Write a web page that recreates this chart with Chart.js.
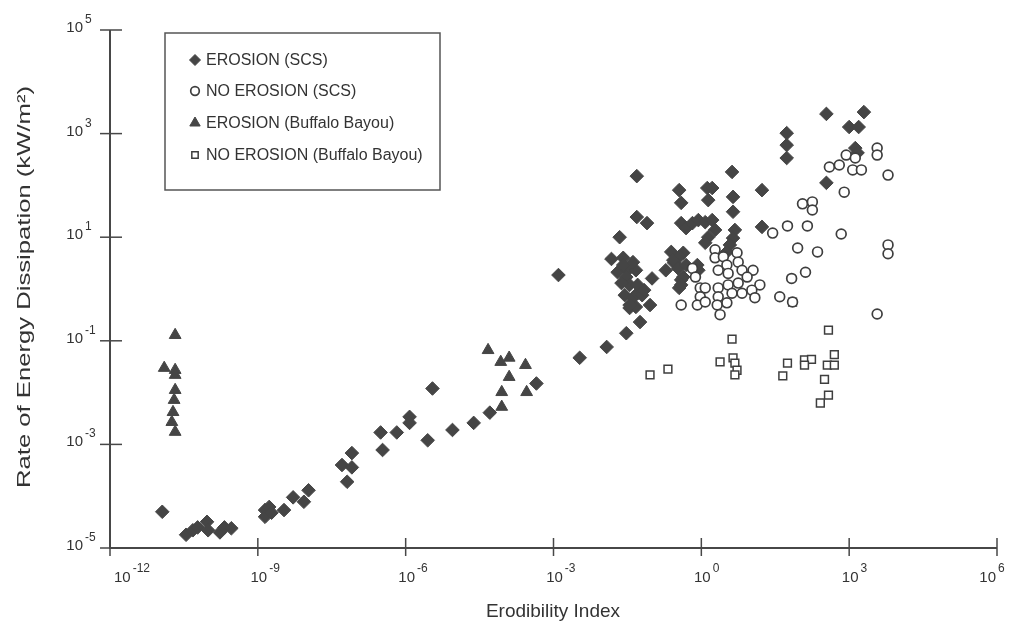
<!DOCTYPE html>
<html>
<head>
<meta charset="utf-8">
<script src="https://cdn.jsdelivr.net/npm/chart.js@4.4.0/dist/chart.umd.min.js"></script>
<style>
  html, body { margin: 0; padding: 0; background: #ffffff; }
</style>
</head>
<body>
<canvas id="erosionChart" width="1009" height="640"></canvas>
<script>
// Valores (eixos log-log): [índice de erodibilidade, dissipação kW/m²]
const erosionSCS = [
  [1.15e-11, 5e-5], [3.5e-11, 1.8e-5], [4.8e-11, 2.2e-5], [6e-11, 2.5e-5], [9.3e-11, 3.2e-5],
  [9.8e-11, 2.2e-5], [1.7e-10, 2e-5], [2.1e-10, 2.5e-5], [2.9e-10, 2.4e-5],
  [1.4e-9, 5.4e-5], [1.4e-9, 4e-5], [1.7e-9, 6.2e-5], [1.9e-9, 4.8e-5], [3.4e-9, 5.4e-5],
  [5.2e-9, 9.5e-5], [8.6e-9, 7.8e-5], [1.07e-8, 1.3e-4],
  [5.1e-8, 4e-4], [8.1e-8, 6.8e-4], [8.1e-8, 3.6e-4], [6.5e-8, 1.9e-4],
  [3.1e-7, 1.7e-3], [3.4e-7, 7.8e-4], [6.6e-7, 1.7e-3], [1.2e-6, 3.4e-3], [1.2e-6, 2.6e-3],
  [3.5e-6, 1.2e-2], [2.8e-6, 1.2e-3], [8.9e-6, 1.9e-3], [2.4e-5, 2.6e-3], [5.1e-5, 4.1e-3],
  [4.5e-4, 1.5e-2], [3.4e-3, 4.7e-2], [1.2e-2, 7.6e-2], [3e-2, 0.14], [5.7e-2, 0.23],
  [1.26e-3, 1.86], [3.5e-2, 0.43], [9.1e-2, 0.49],
  [0.049, 151], [0.049, 24.5], [0.079, 18.7], [0.022, 10], [0.015, 3.8], [0.026, 4.0],
  [0.020, 2.1], [0.032, 2.3], [0.047, 2.3], [0.10, 1.6], [0.030, 1.7], [0.035, 1.2],
  [0.028, 0.76], [0.041, 0.68], [0.047, 0.45], [0.051, 0.83],
  [0.026, 2.9], [0.041, 3.3], [0.051, 1.2], [0.063, 0.76], [0.024, 1.3], [0.035, 0.49], [0.069, 0.95],
  [0.28, 3.2], [0.19, 2.3], [0.39, 1.5], [0.355, 1.05], [0.43, 5.0], [0.355, 81], [0.39, 46],
  [0.39, 18.7], [0.49, 15], [0.66, 18.7], [0.87, 21.4], [1.2, 19.5], [1.66, 21.4], [1.9, 13.8],
  [1.38, 10], [1.2, 7.8], [4.8, 13.8], [4.4, 9.6], [3.8, 7.1], [3.3, 5.2], [17, 15.8],
  [0.245, 5.2], [0.355, 4.2], [0.27, 3.6], [0.34, 2.5], [0.49, 2.9], [0.83, 2.9], [0.87, 2.3],
  [0.43, 1.7], [0.39, 1.2],
  [4.2, 182], [1.32, 89], [1.66, 89], [1.38, 52], [4.4, 60], [4.4, 31], [17, 81],
  [345, 2400], [1990, 2600], [1000, 1340], [1560, 1340], [1330, 525], [1480, 425],
  [54, 1020], [54, 600], [54, 338], [345, 112]
];

const noErosionSCS = [
  [28, 12], [1.9, 5.7], [1.9, 4.0], [2.8, 4.2], [5.3, 5.0], [5.6, 3.3], [3.3, 2.9], [0.66, 2.5],
  [0.76, 1.7], [2.2, 2.3], [3.5, 2.0], [6.7, 2.3], [11.2, 2.3], [8.5, 1.7], [15.4, 1.2],
  [0.95, 1.05], [1.2, 1.05], [2.2, 1.05], [3.5, 1.2], [5.6, 1.3], [10.6, 0.95], [0.95, 0.71],
  [2.2, 0.71], [4.2, 0.83], [6.7, 0.83], [12.2, 0.68], [0.39, 0.49], [0.83, 0.49], [1.2, 0.56],
  [2.1, 0.49], [3.3, 0.54], [2.4, 0.32], [39, 0.71], [71, 0.56], [68, 1.6], [130, 2.1],
  [90, 6.2], [228, 5.2], [56, 16.5], [142, 16.5], [690, 11.5], [113, 44], [179, 48], [179, 33.5],
  [794, 74], [397, 226], [630, 247], [1180, 199], [1770, 199], [6150, 158], [871, 385],
  [1330, 338], [3700, 525], [3700, 385], [6150, 7.1], [6150, 4.8], [3700, 0.33]
];

const erosionBuffalo = [
  [2.1e-11, 0.129], [1.26e-11, 0.0299], [2.1e-11, 0.0273], [2.1e-11, 0.0219], [2.1e-11, 0.0112],
  [2.0e-11, 7.2e-3], [1.9e-11, 4.2e-3], [1.8e-11, 2.7e-3], [2.1e-11, 1.74e-3],
  [4.7e-5, 0.066], [8.5e-5, 0.039], [1.26e-4, 0.047], [1.26e-4, 0.020], [8.9e-5, 0.0102],
  [8.9e-5, 5.3e-3], [2.7e-4, 0.034], [2.85e-4, 0.0102]
];

const noErosionBuffalo = [
  [0.091, 0.022], [0.21, 0.0285], [4.2, 0.108], [2.4, 0.039], [4.4, 0.047], [4.8, 0.037],
  [5.3, 0.027], [4.8, 0.022], [45, 0.021], [71, 0.56], [380, 0.16], [56, 0.037], [124, 0.043],
  [172, 0.044], [124, 0.034], [316, 0.018], [360, 0.034], [500, 0.054], [500, 0.034],
  [380, 8.9e-3], [260, 6.3e-3]
];

const seriesLabels = ['EROSION (SCS)', 'NO EROSION (SCS)', 'EROSION (Buffalo Bayou)', 'NO EROSION (Buffalo Bayou)'];
const xTickExps = [-12, -9, -6, -3, 0, 3, 6];
const yTickExps = [-5, -3, -1, 1, 3, 5];
const xTitle = 'Erodibility Index';
const yTitle = 'Rate of Energy Dissipation (kW/m²)';

const ink = '#3e3e3e';
const fontFam = "'Liberation Sans', Arial, sans-serif";

function toPoints(pairs) {
  return pairs.map(p => ({ x: p[0], y: p[1] }));
}

const styles = [
  { pointStyle: 'rectRot', pointRadius: 6.8, backgroundColor: '#454545', borderColor: '#454545', borderWidth: 1, order: 2 },
  { pointStyle: 'circle', pointRadius: 4.9, backgroundColor: '#ffffff', borderColor: ink, borderWidth: 1.7, order: 0 },
  { pointStyle: 'triangle', pointRadius: 6.8, backgroundColor: '#454545', borderColor: '#454545', borderWidth: 1, order: 3 },
  { pointStyle: 'rect', pointRadius: 5.5, backgroundColor: '#ffffff', borderColor: ink, borderWidth: 1.5, order: 1 }
];
const series = [erosionSCS, noErosionSCS, erosionBuffalo, noErosionBuffalo];

// Eixos, rótulos com expoente e legenda desenhados à mão
const decor = {
  id: 'decor',
  beforeDatasetsDraw(chart) {
    const { ctx, chartArea: a, scales: { x, y } } = chart;
    ctx.save();
    ctx.strokeStyle = '#474747';
    ctx.lineWidth = 2;
    ctx.beginPath();
    ctx.moveTo(a.left, a.top);
    ctx.lineTo(a.left, a.bottom);
    ctx.lineTo(a.right, a.bottom);
    ctx.stroke();

    ctx.lineWidth = 1.5;
    ctx.fillStyle = '#333';
    xTickExps.forEach((e, i) => {
      const px = x.getPixelForValue(Math.pow(10, e));
      ctx.beginPath();
      ctx.moveTo(px, a.bottom - 10);
      ctx.lineTo(px, a.bottom + 8);
      ctx.stroke();
      ctx.font = '15px ' + fontFam;
      ctx.textAlign = 'left';
      ctx.textBaseline = 'alphabetic';
      const w = ctx.measureText('10').width;
      let left = px - w / 2 + 1;
      if (i === 0) left = px + 4;
      if (i === xTickExps.length - 1) left = px - w - 1;
      ctx.fillText('10', left, a.bottom + 34);
      ctx.font = '12px ' + fontFam;
      ctx.fillText(String(e), left + w + 2, a.bottom + 24);
    });
    yTickExps.forEach(e => {
      const py = y.getPixelForValue(Math.pow(10, e));
      ctx.beginPath();
      ctx.moveTo(a.left - 10, py);
      ctx.lineTo(a.left + 12, py);
      ctx.stroke();
      ctx.font = '15px ' + fontFam;
      ctx.textAlign = 'right';
      ctx.textBaseline = 'alphabetic';
      ctx.fillText('10', a.left - 27, py + 2);
      ctx.font = '12px ' + fontFam;
      ctx.textAlign = 'left';
      ctx.fillText(String(e), a.left - 25, py - 7);
    });

    // títulos
    ctx.font = '19px ' + fontFam;
    ctx.textAlign = 'center';
    ctx.textBaseline = 'middle';
    ctx.fillText(xTitle, 553, a.bottom + 64);
    ctx.save();
    ctx.translate(25, 287);
    ctx.rotate(-Math.PI / 2);
    ctx.scale(1.35, 1);
    ctx.fillText(yTitle, 0, 0);
    ctx.restore();
    ctx.restore();
  },
  afterDraw(chart) {
    const ctx = chart.ctx;
    ctx.save();
    ctx.strokeStyle = '#555';
    ctx.lineWidth = 1.5;
    ctx.strokeRect(165, 33, 275, 157);
    const rows = [60, 91, 123, 155];
    const sizes = [5.5, 4.3, 6, 4.5];
    rows.forEach((ry, i) => {
      const s = styles[i];
      ctx.fillStyle = s.backgroundColor;
      ctx.strokeStyle = s.borderColor;
      ctx.lineWidth = s.borderWidth;
      Chart.helpers.drawPoint(ctx, { pointStyle: s.pointStyle, radius: sizes[i], rotation: 0, borderWidth: s.borderWidth }, 195, ry);
      ctx.fillStyle = '#333';
      ctx.font = '16px ' + fontFam;
      ctx.textAlign = 'left';
      ctx.textBaseline = 'middle';
      ctx.fillText(seriesLabels[i], 206, ry + 1);
    });
    ctx.restore();
  }
};

const erosionCtx = document.getElementById('erosionChart').getContext('2d');
new Chart(erosionCtx, {
  type: 'scatter',
  data: {
    datasets: series.map((pts, i) => Object.assign({
      label: seriesLabels[i],
      data: toPoints(pts)
    }, styles[i]))
  },
  options: {
    responsive: false,
    animation: false,
    layout: { padding: { left: 110, top: 30, right: 12, bottom: 92 } },
    plugins: {
      legend: { display: false },
      tooltip: { enabled: false }
    },
    scales: {
      x: {
        type: 'logarithmic',
        min: 1e-12,
        max: 1e6,
        grid: { display: false, drawTicks: false },
        border: { display: false },
        ticks: { display: false }
      },
      y: {
        type: 'logarithmic',
        min: 1e-5,
        max: 1e5,
        grid: { display: false, drawTicks: false },
        border: { display: false },
        ticks: { display: false }
      }
    }
  },
  plugins: [decor]
});
</script>
</body>
</html>
